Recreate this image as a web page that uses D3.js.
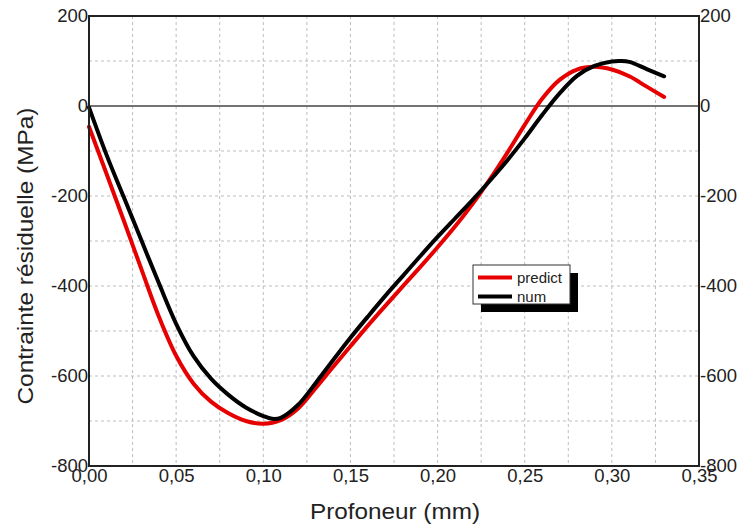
<!DOCTYPE html>
<html>
<head>
<meta charset="utf-8">
<script src="https://cdn.jsdelivr.net/npm/d3@7"></script>
<style>
  html, body { margin: 0; padding: 0; background: #fff; }
  svg { display: block; font-family: "Liberation Sans", Arial, sans-serif; }
</style>
</head>
<body>
<svg id="chart" width="742" height="528"></svg>
<script>
// Depth (mm) and residual stress (MPa) profiles
const depthPredict = [0, 0.01, 0.02, 0.03, 0.04, 0.05, 0.06, 0.07, 0.08, 0.09, 0.10, 0.11, 0.12, 0.13, 0.14, 0.15, 0.16, 0.17, 0.18, 0.19, 0.20, 0.21, 0.22, 0.23, 0.24, 0.25, 0.26, 0.27, 0.28, 0.29, 0.30, 0.31, 0.32, 0.33];
const stressPredict = [-46, -150, -255, -362, -467, -555, -617, -657, -683, -700, -706, -698, -672, -627, -580, -534, -488, -444, -401, -358, -314, -268, -218, -163, -104, -42, 16, 58, 81, 87, 81, 66, 43, 20];

const depthNum = [0, 0.01, 0.02, 0.03, 0.04, 0.05, 0.06, 0.07, 0.08, 0.09, 0.10, 0.105, 0.11, 0.12, 0.13, 0.14, 0.15, 0.16, 0.17, 0.18, 0.19, 0.20, 0.21, 0.22, 0.23, 0.24, 0.25, 0.26, 0.27, 0.28, 0.29, 0.30, 0.305, 0.31, 0.32, 0.33];
const stressNum = [-3, -108, -203, -298, -393, -484, -556, -606, -642, -670, -689, -695, -693, -664, -616, -565, -515, -468, -422, -378, -334, -291, -250, -209, -166, -121, -72, -20, 28, 67, 89, 99, 100, 98, 82, 66];

const seriesNames = ["predict", "num"];
const seriesColors = ["#e60000", "#000000"];

const xTicks = [0, 0.05, 0.10, 0.15, 0.20, 0.25, 0.30, 0.35];
const yTicks = [200, 0, -200, -400, -600, -800];

const xLabel = "Profoneur (mm)";
const yLabel = "Contrainte résiduelle (MPa)";

const svg = d3.select("#chart");
const plot = { left: 89, right: 699, top: 16, bottom: 466 };

const x = d3.scaleLinear().domain([0, 0.35]).range([plot.left, plot.right]);
const y = d3.scaleLinear().domain([-800, 200]).range([plot.bottom, plot.top]);

const loc = d3.formatLocale({ decimal: ",", thousands: ".", grouping: [3], currency: ["", ""], minus: "-" });
const fx = loc.format(".2f");
const fy = loc.format("d");

// dashed grid
const grid = svg.append("g");
const xGrid = d3.range(0.025, 0.35, 0.025);
const yGrid = d3.range(-700, 200, 100);
grid.selectAll("line.vx").data(xGrid).join("line")
  .attr("x1", d => x(d)).attr("x2", d => x(d))
  .attr("y1", plot.top).attr("y2", plot.bottom)
  .attr("stroke", "#bdbdbd").attr("stroke-width", 1).attr("stroke-dasharray", "3,3");
grid.selectAll("line.hy").data(yGrid.filter(d => d !== 0)).join("line")
  .attr("x1", plot.left).attr("x2", plot.right)
  .attr("y1", d => y(d)).attr("y2", d => y(d))
  .attr("stroke", "#bdbdbd").attr("stroke-width", 1).attr("stroke-dasharray", "3,3");

// zero line
svg.append("line")
  .attr("x1", plot.left).attr("x2", plot.right)
  .attr("y1", y(0)).attr("y2", y(0))
  .attr("stroke", "#444").attr("stroke-width", 1.5);

// curves
const line = d3.line().x(d => x(d[0])).y(d => y(d[1])).curve(d3.curveCatmullRom.alpha(0.5));
const series = [
  d3.zip(depthPredict, stressPredict),
  d3.zip(depthNum, stressNum)
];
svg.append("g").selectAll("path").data(series).join("path")
  .attr("d", line)
  .attr("fill", "none")
  .attr("stroke", (d, i) => seriesColors[i])
  .attr("stroke-width", 4)
  .attr("stroke-linejoin", "round")
  .attr("stroke-linecap", "round");

// frame
svg.append("rect")
  .attr("x", plot.left).attr("y", plot.top)
  .attr("width", plot.right - plot.left).attr("height", plot.bottom - plot.top)
  .attr("fill", "none").attr("stroke", "#222").attr("stroke-width", 2);

// axes
function styleAxis(g) {
  g.select(".domain").remove();
  g.selectAll("text").attr("fill", "#222").style("font-size", "18.5px")
    .style("font-family", '"Liberation Sans", Arial, sans-serif');
}
svg.append("g").attr("transform", `translate(${plot.left},0)`)
  .call(d3.axisLeft(y).tickValues(yTicks).tickFormat(fy).tickSize(0).tickPadding(1))
  .call(styleAxis);
svg.append("g").attr("transform", `translate(${plot.right},0)`)
  .call(d3.axisRight(y).tickValues(yTicks).tickFormat(fy).tickSize(0).tickPadding(1))
  .call(styleAxis);
svg.append("g").attr("transform", `translate(0,${plot.bottom})`)
  .call(d3.axisBottom(x).tickValues(xTicks).tickFormat(fx).tickSize(0).tickPadding(3))
  .call(styleAxis);

// titles
svg.append("text")
  .attr("x", 395).attr("y", 519)
  .attr("text-anchor", "middle")
  .attr("textLength", 170).attr("lengthAdjust", "spacingAndGlyphs")
  .attr("fill", "#222").style("font-size", "21.5px")
  .text(xLabel);
svg.append("text")
  .attr("transform", "translate(33,256) rotate(-90)")
  .attr("text-anchor", "middle")
  .attr("textLength", 297).attr("lengthAdjust", "spacingAndGlyphs")
  .attr("fill", "#222").style("font-size", "21.5px")
  .text(yLabel);

// legend
const lg = svg.append("g").attr("transform", "translate(473,265)");
lg.append("rect").attr("x", 8).attr("y", 8).attr("width", 97).attr("height", 39).attr("fill", "#000");
lg.append("rect").attr("x", 0).attr("y", 0).attr("width", 97).attr("height", 39)
  .attr("fill", "#fff").attr("stroke", "#333").attr("stroke-width", 1);
seriesNames.forEach((name, i) => {
  const yy = 12.5 + i * 19;
  lg.append("line").attr("x1", 5).attr("x2", 39).attr("y1", yy).attr("y2", yy)
    .attr("stroke", seriesColors[i]).attr("stroke-width", 4);
  lg.append("text").attr("x", 44).attr("y", yy + 5)
    .attr("fill", "#222").style("font-size", "15px").text(name);
});
</script>
</body>
</html>
